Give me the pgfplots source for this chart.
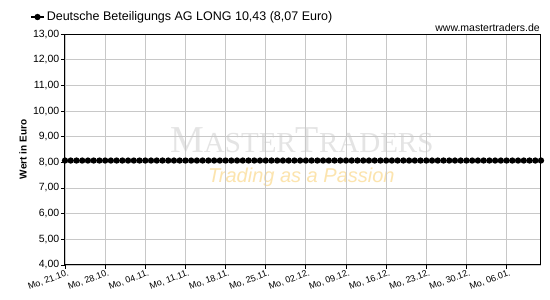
\documentclass[border=0pt]{standalone}
\usepackage{fontspec}
\setmainfont{Liberation Sans}
\newfontfamily\wmserif{Liberation Serif}
\usepackage{pgfplots}
\pgfplotsset{compat=1.18}
\definecolor{wmgray}{HTML}{E4E4E4}
\definecolor{wmorange}{HTML}{FCE4AE}
\definecolor{gridc}{HTML}{C8C8C8}
\begin{document}
\begin{tikzpicture}
\useasboundingbox (0pt,0pt) rectangle (550pt,300pt);
\fill[white] (0pt,0pt) rectangle (550pt,300pt);
% watermark
\node[anchor=base west, inner sep=0pt, text=wmgray] at (170pt,147pt)
  {\wmserif\fontsize{38}{40}\selectfont M\fontsize{29}{30}\selectfont ASTER\fontsize{38}{40}\selectfont T\fontsize{29}{30}\selectfont RADERS};
\node[anchor=base west, inner sep=0pt, text=wmorange] at (208pt,117pt)
  {\fontsize{20}{22}\selectfont\itshape Trading as a Passion};
\node[anchor=east, inner sep=0pt] at (540pt,272pt) {\fontsize{10.5}{12}\selectfont www.mastertraders.de};
\begin{axis}[
  at={(65pt,35pt)}, anchor=south west,
  scale only axis, width=476pt, height=231pt,
  xmin=0, xmax=83, ymin=4, ymax=13,
  clip=false,
  axis line style={black, line width=1pt},
  tick pos=left, tick align=outside,
  major tick length=4pt,
  tick style={black, line width=0.8pt},
  grid=major,
  major grid style={draw=gridc, line width=0.9pt},
  xtick={0,7,14,21,28,35,42,49,56,63,70,77},
  xticklabels={{Mo, 21.10.},{Mo, 28.10.},{Mo, 04.11.},{Mo, 11.11.},{Mo, 18.11.},{Mo, 25.11.},{Mo, 02.12.},{Mo, 09.12.},{Mo, 16.12.},{Mo, 23.12.},{Mo, 30.12.},{Mo, 06.01.}},
  xticklabel style={rotate=20, anchor=north east, font=\fontsize{9}{10}\selectfont, inner sep=1pt, xshift=3pt},
  ytick={4,5,6,7,8,9,10,11,12,13},
  yticklabel style={font=\fontsize{10.5}{12}\selectfont, inner sep=1.5pt},
  /pgf/number format/.cd, fixed, fixed zerofill, precision=2, use comma, assume math mode=true,
  /pgfplots/.cd,
  ylabel={Wert in Euro},
  ylabel style={at={(axis description cs:-0.0882,0.5)}, anchor=center, rotate=0, font=\bfseries\fontsize{10}{12}\selectfont},
  legend style={at={(axis description cs:-0.0735,1.0736)}, anchor=west, draw=none, fill=none, font=\fontsize{12.5}{14}\selectfont, inner sep=0pt},
  legend cell align=left,
  legend image code/.code={\draw[mark repeat=2,mark phase=2] plot coordinates {(0pt,0pt)(6.5pt,0pt)(13pt,0pt)};},
]
\addplot[black, line width=1.6pt, mark=*, mark size=2.3pt, mark options={fill=black}] coordinates {
(0,8.07)(1,8.07)(2,8.07)(3,8.07)(4,8.07)(5,8.07)(6,8.07)(7,8.07)(8,8.07)(9,8.07)
(10,8.07)(11,8.07)(12,8.07)(13,8.07)(14,8.07)(15,8.07)(16,8.07)(17,8.07)(18,8.07)(19,8.07)
(20,8.07)(21,8.07)(22,8.07)(23,8.07)(24,8.07)(25,8.07)(26,8.07)(27,8.07)(28,8.07)(29,8.07)
(30,8.07)(31,8.07)(32,8.07)(33,8.07)(34,8.07)(35,8.07)(36,8.07)(37,8.07)(38,8.07)(39,8.07)
(40,8.07)(41,8.07)(42,8.07)(43,8.07)(44,8.07)(45,8.07)(46,8.07)(47,8.07)(48,8.07)(49,8.07)
(50,8.07)(51,8.07)(52,8.07)(53,8.07)(54,8.07)(55,8.07)(56,8.07)(57,8.07)(58,8.07)(59,8.07)
(60,8.07)(61,8.07)(62,8.07)(63,8.07)(64,8.07)(65,8.07)(66,8.07)(67,8.07)(68,8.07)(69,8.07)
(70,8.07)(71,8.07)(72,8.07)(73,8.07)(74,8.07)(75,8.07)(76,8.07)(77,8.07)(78,8.07)(79,8.07)
(80,8.07)(81,8.07)(82,8.07)(83,8.07)
};
\addlegendentry{Deutsche Beteiligungs AG LONG 10,43 (8,07 Euro)}
\end{axis}
\end{tikzpicture}
\end{document}
